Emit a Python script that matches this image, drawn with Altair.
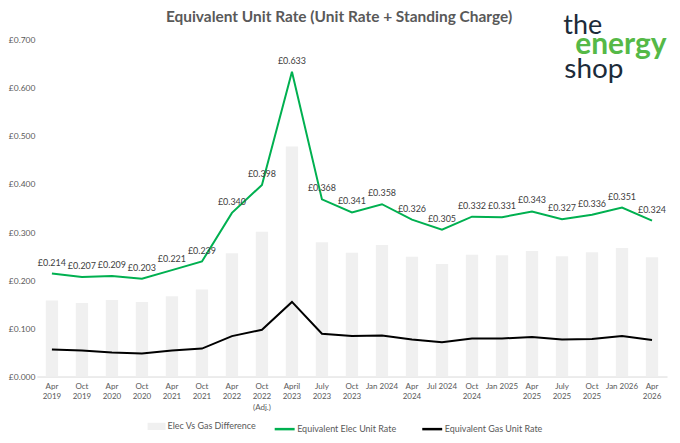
import altair as alt
import pandas as pd

categories = ["Apr|2019", "Oct|2019", "Apr|2020", "Oct|2020", "Apr|2021", "Oct|2021",
              "Apr|2022", "Oct|2022|(Adj.)", "April|2023", "July|2023", "Oct|2023",
              "Jan 2024", "Apr|2024", "Jul 2024", "Oct|2024", "Jan 2025", "Apr|2025",
              "July|2025", "Oct|2025", "Jan 2026", "Apr|2026"]
elec = [0.214, 0.207, 0.209, 0.203, 0.221, 0.239, 0.340, 0.398, 0.633, 0.368, 0.341,
        0.358, 0.326, 0.305, 0.332, 0.331, 0.343, 0.327, 0.336, 0.351, 0.324]
gas = [0.056, 0.054, 0.050, 0.048, 0.054, 0.058, 0.084, 0.097, 0.155, 0.089, 0.084,
       0.085, 0.077, 0.071, 0.079, 0.079, 0.082, 0.077, 0.078, 0.084, 0.076]
diff = [0.158, 0.153, 0.159, 0.155, 0.167, 0.181, 0.256, 0.301, 0.478, 0.279, 0.257,
        0.273, 0.249, 0.234, 0.253, 0.252, 0.261, 0.250, 0.258, 0.267, 0.248]
elec_labels = ["£0.214", "£0.207", "£0.209", "£0.203", "£0.221", "£0.239", "£0.340",
               "£0.398", "£0.633", "£0.368", "£0.341", "£0.358", "£0.326", "£0.305",
               "£0.332", "£0.331", "£0.343", "£0.327", "£0.336", "£0.351", "£0.324"]
y_ticks = [0.0, 0.1, 0.2, 0.3, 0.4, 0.5, 0.6, 0.7]
bar_name = "Elec Vs Gas Difference"
line_names = ["Equivalent Elec Unit Rate", "Equivalent Gas Unit Rate"]

FONT = "Lato"
TXT = "#595959"
GREEN = "#00b050"

n = len(categories)
bars_df = pd.DataFrame({"period": categories, "diff": diff, "series": [bar_name] * n,
                        "elec": elec, "label": elec_labels, "idx": list(range(n))})
lines_df = pd.DataFrame({"period": categories * 2, "value": elec + gas,
                         "series": [line_names[0]] * n + [line_names[1]] * n,
                         "idx": list(range(n)) * 2})

x_axis = alt.Axis(title=None, labelExpr="split(datum.label, '|')", labelAngle=0,
                  labelFont=FONT, labelFontSize=8, labelColor=TXT, labelLineHeight=10.5,
                  labelPadding=6, ticks=False, domainColor="#d9d9d9", domainWidth=1,
                  labelBaseline="top")
x_scale = alt.Scale(paddingInner=0.59, paddingOuter=0.295)
y_axis = alt.Axis(title=None, values=y_ticks, labelExpr="'£' + format(datum.value, '.3f')",
                  grid=False, domain=False, ticks=False, labelPadding=2, labelFont=FONT,
                  labelFontSize=8.5, labelColor=TXT)
y_scale = alt.Scale(domain=[0, 0.7], nice=False)


def xe():
    return alt.X("period:N", sort=categories, scale=x_scale, axis=x_axis)


bars = alt.Chart(bars_df).mark_bar().encode(
    x=xe(),
    y=alt.Y("diff:Q", scale=y_scale, axis=y_axis),
    fill=alt.Fill("series:N", scale=alt.Scale(domain=[bar_name], range=["#f0f0f0"]),
                  legend=alt.Legend(title=None, orient="none", legendX=111, legendY=379,
                                    symbolType="M-1,-0.4H1V0.4H-1Z", symbolSize=324,
                                    symbolStrokeWidth=0, labelFont=FONT, labelFontSize=9,
                                    labelColor=TXT, labelOffset=2, padding=0)),
)

lines = alt.Chart(lines_df).mark_line(strokeWidth=2).encode(
    x=xe(),
    y=alt.Y("value:Q", scale=y_scale, axis=y_axis),
    order=alt.Order("idx:Q"),
    stroke=alt.Stroke("series:N", scale=alt.Scale(domain=line_names, range=[GREEN, "#000000"]),
                      legend=alt.Legend(title=None, orient="none", legendX=237, legendY=379,
                                        direction="horizontal", symbolType="stroke",
                                        symbolSize=400, symbolStrokeWidth=2.5,
                                        labelFont=FONT, labelFontSize=9, labelColor=TXT,
                                        labelOffset=1, columnPadding=20, padding=0)),
)

labels = alt.Chart(bars_df).mark_text(dy=-11, font=FONT, fontSize=9, color="#404040").encode(
    x=xe(),
    y=alt.Y("elec:Q", scale=y_scale, axis=y_axis),
    text="label:N",
)

title_df = pd.DataFrame({"t": ["Equivalent Unit Rate (Unit Rate + Standing Charge)"]})
title = alt.Chart(title_df).mark_text(font=FONT, fontSize=15.5, fontWeight="bold", color=TXT,
                                      align="center", baseline="middle").encode(
    text="t:N", x=alt.value(303), y=alt.value(-23))

logo_the = alt.Chart(pd.DataFrame({"t": ["the"]})).mark_text(
    font=FONT, fontSize=27, color="#1c2b39", align="left", baseline="alphabetic").encode(
    text="t:N", x=alt.value(528), y=alt.value(-6))
logo_energy = alt.Chart(pd.DataFrame({"t": ["energy"]})).mark_text(
    font=FONT, fontSize=30, fontWeight="bold", color="#55b947", align="left",
    baseline="alphabetic").encode(text="t:N", x=alt.value(540), y=alt.value(14))
logo_shop = alt.Chart(pd.DataFrame({"t": ["shop"]})).mark_text(
    font=FONT, fontSize=28, color="#1c2b39", align="left", baseline="alphabetic").encode(
    text="t:N", x=alt.value(529), y=alt.value(39))

chart = alt.layer(bars, lines, labels, title, logo_the, logo_energy, logo_shop).properties(
    width=632, height=338,
    autosize=alt.AutoSizeParams(type="none"),
    padding={"left": 29, "top": 31, "right": 5, "bottom": 60},
).configure_view(stroke=None).resolve_legend(fill="independent", stroke="independent")

chart.save("out.html", embed_options={"renderer": "svg", "actions": False})
